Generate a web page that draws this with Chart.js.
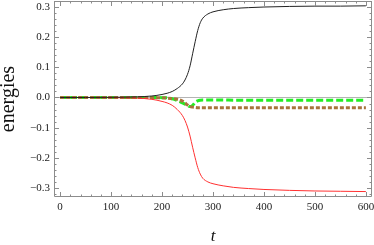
<!DOCTYPE html>
<html>
<head>
<meta charset="utf-8">
<script src="https://cdn.jsdelivr.net/npm/chart.js@4"></script>
<style>
  html, body { margin: 0; padding: 0; background: #fff; }
  #grafico { width: 374px; height: 245px; }
</style>
</head>
<body>
<div id="grafico"><canvas id="ctx" width="374" height="245"></canvas></div>
<script>
// tempos (t)
const tempos = [0, 50, 100, 150, 180, 200, 210, 220, 230, 240, 245, 250, 255, 260, 265, 270, 275, 280, 290, 300, 320, 340, 370, 400, 450, 500, 550, 600]
// curva preta
const energiaPreta = [0, 0, 0.0005, 0.002, 0.005, 0.01, 0.014, 0.02, 0.03, 0.045, 0.058, 0.077, 0.105, 0.145, 0.185, 0.222, 0.248, 0.263, 0.277, 0.284, 0.291, 0.295, 0.298, 0.3, 0.302, 0.303, 0.303, 0.304]
// curva vermelha
const energiaVermelha = [0, 0, -0.0005, -0.002, -0.006, -0.013, -0.018, -0.026, -0.04, -0.06, -0.076, -0.098, -0.128, -0.165, -0.2, -0.232, -0.254, -0.268, -0.28, -0.286, -0.293, -0.298, -0.302, -0.305, -0.308, -0.31, -0.311, -0.312]
// tracejada verde
const energiaVerde = [0, 0, 0, 0, 0, -0.0005, -0.001, -0.004, -0.01, -0.018, -0.022, -0.026, -0.03, -0.026, -0.016, -0.011, -0.009, -0.008, -0.008, -0.008, -0.008, -0.009, -0.009, -0.009, -0.009, -0.009, -0.009, -0.009]
// pontilhada marrom
const energiaMarrom = [0, 0, 0, 0, -0.0005, -0.001, -0.002, -0.004, -0.006, -0.012, -0.018, -0.025, -0.03, -0.032, -0.033, -0.034, -0.034, -0.034, -0.034, -0.034, -0.034, -0.034, -0.034, -0.034, -0.034, -0.034, -0.034, -0.034]

const xTicks = [0, 100, 200, 300, 400, 500, 600]
const yTicks = [-0.3, -0.2, -0.1, 0, 0.1, 0.2, 0.3]

const pontos = (ys) => tempos.map((t, i) => ({ x: t, y: ys[i] }))

const serie = (ys, cor, largura, dash) => ({
  data: pontos(ys),
  borderColor: cor,
  borderWidth: largura,
  borderDash: dash,
  pointRadius: 0,
  fill: false,
  cubicInterpolationMode: 'monotone'
})

// moldura estilo Mathematica com ticks para dentro
const moldura = {
  id: 'moldura',
  beforeDatasetsDraw(chart) {
    const { ctx, chartArea: a, scales: { y } } = chart
    ctx.save()
    ctx.strokeStyle = '#b4b4b4'
    ctx.lineWidth = 1
    const y0 = Math.round(y.getPixelForValue(0)) + 0.5
    ctx.beginPath()
    ctx.moveTo(a.left, y0)
    ctx.lineTo(a.right, y0)
    ctx.stroke()
    ctx.restore()
  },
  afterDraw(chart) {
    const { ctx, chartArea: a, scales: { x, y } } = chart
    ctx.save()
    ctx.strokeStyle = '#8c8c8c'
    ctx.lineWidth = 1
    ctx.beginPath()
    ctx.rect(a.left + 0.5, a.top + 0.5, a.right - a.left - 1, a.bottom - a.top - 1)
    ctx.stroke()
    ctx.beginPath()
    for (let v = -20; v <= 620; v += 20) {
      const px = Math.round(x.getPixelForValue(v)) + 0.5
      if (px < a.left || px > a.right) continue
      const len = v % 100 === 0 ? 5 : 2.5
      ctx.moveTo(px, a.bottom); ctx.lineTo(px, a.bottom - len)
      ctx.moveTo(px, a.top); ctx.lineTo(px, a.top + len)
    }
    for (let k = -16; k <= 16; k++) {
      const v = k * 0.02
      const py = Math.round(y.getPixelForValue(v)) + 0.5
      if (py < a.top || py > a.bottom) continue
      const len = k % 5 === 0 ? 5 : 2.5
      ctx.moveTo(a.left, py); ctx.lineTo(a.left + len, py)
      ctx.moveTo(a.right, py); ctx.lineTo(a.right - len, py)
    }
    ctx.stroke()
    ctx.restore()
  }
}

const fonteTick = { family: 'Liberation Serif', size: 11 }

new Chart(document.getElementById('ctx'), {
  type: 'line',
  data: {
    datasets: [
      serie(energiaPreta, '#222222', 1, []),
      serie(energiaVermelha, '#ff3030', 1, []),
      serie(energiaMarrom, '#a8743c', 3, [4, 2]),
      serie(energiaVerde, '#22ee22', 3, [7, 3])
    ]
  },
  options: {
    responsive: false,
    animation: false,
    layout: { padding: { top: 1, right: 2, left: 0, bottom: 0 } },
    plugins: { legend: { display: false }, tooltip: { enabled: false } },
    scales: {
      x: {
        type: 'linear',
        min: -12,
        max: 612,
        afterFit: (s) => { s.height = 48; s.paddingLeft = 0; s.paddingRight = 0 },
        afterBuildTicks: (s) => { s.ticks = xTicks.map(v => ({ value: v })) },
        grid: { display: false, drawTicks: false },
        border: { display: false },
        ticks: { font: fonteTick, color: '#222', padding: 4, maxRotation: 0, callback: (v) => String(v) },
        title: { display: true, text: 't', color: '#111', padding: 0, font: { family: 'Liberation Serif', size: 17, style: 'italic', lineHeight: 1 } }
      },
      y: {
        min: -0.33,
        max: 0.32,
        afterFit: (s) => { s.width = 54; s.paddingTop = 0; s.paddingBottom = 0 },
        afterBuildTicks: (s) => { s.ticks = yTicks.map(v => ({ value: v })) },
        grid: { display: false, drawTicks: false },
        border: { display: false },
        ticks: { font: fonteTick, color: '#222', padding: 4, callback: (v) => v.toFixed(1).replace('-', '\u2212') },
        title: { display: true, text: 'energies', color: '#111', padding: 0, font: { family: 'Liberation Serif', size: 20, lineHeight: 0.9 } }
      }
    }
  },
  plugins: [moldura]
})
</script>
</body>
</html>
